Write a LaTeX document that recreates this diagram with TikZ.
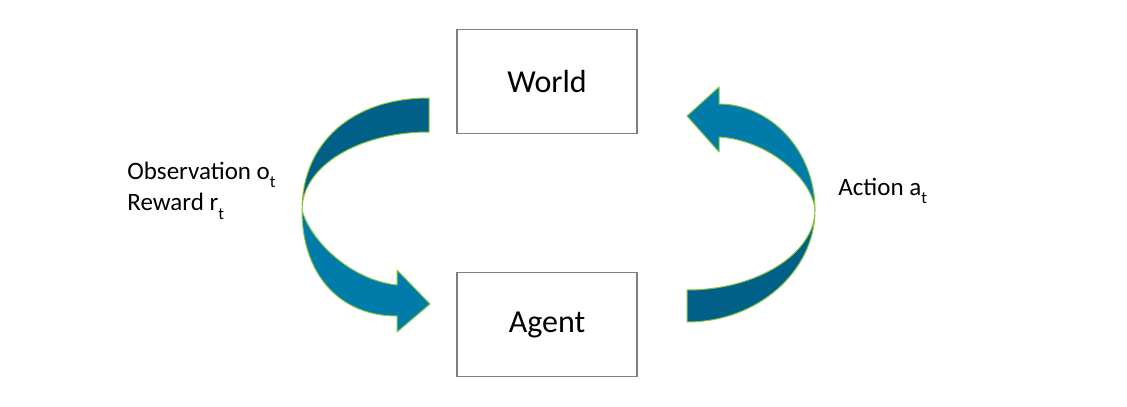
\documentclass[tikz,border=0pt]{standalone}
\usepackage{fontspec}
\setmainfont{Carlito}
\usepackage{tikz}
\usetikzlibrary{positioning}
\definecolor{ribbondark}{RGB}{0, 96, 136}
\definecolor{ribbonlight}{RGB}{0, 123, 170}
\definecolor{ribbonedge}{RGB}{140, 198, 63}
\definecolor{boxgray}{RGB}{127, 127, 127}
\newcommand{\lowsub}[1]{\raisebox{-4.5pt}{\fontsize{8.5}{8.5}\selectfont #1}}

\begin{document}
\begin{tikzpicture}[x=0.5pt, y=-0.5pt,
  box/.style={rectangle, draw=boxgray, line width=0.6pt, fill=white,
    minimum width=90pt, minimum height=52pt, font=\fontsize{16}{18}\selectfont},
  sidelabel/.style={inner sep=0pt, align=left, font=\fontsize{12.5}{15.5}\selectfont},
  ribbon/.style={draw=ribbonedge, line width=0.5pt, line join=round}
]
  \useasboundingbox (0,0) rectangle (1127,406);

  \node[box] (world) at (547,81.5) {World};
  \node[box, below=69pt of world] (agent) {Agent};

  \node[sidelabel, anchor=base west] (obs) at (127,210)
    {Observation o\lowsub{t}\\Reward r\lowsub{t}};
  \node[sidelabel, anchor=base west] (act) at (838,195) {Action a\lowsub{t}};

  % ribbon from world down to agent
  \fill[ribbon, fill=ribbondark] (429,98) .. controls (352,98) and (302,143) .. (302,210)
    .. controls (302,166) and (359,132) .. (429,132) -- cycle;
  \fill[ribbon, fill=ribbonlight] (302,210) .. controls (302,275) and (340,316) .. (397,316)
    -- (397,332) -- (430,304) -- (397,270) -- (397,285)
    .. controls (350,280) and (310,240) .. (302,210) -- cycle;

  % ribbon from agent up to world
  \fill[ribbon, fill=ribbondark] (687,322) .. controls (758,322) and (815,271) .. (815,210)
    .. controls (815,253) and (758,290) .. (687,290) -- cycle;
  \fill[ribbon, fill=ribbonlight] (815,210) .. controls (815,150) and (770,104) .. (719,104)
    -- (719,87) -- (687,116) -- (719,152) -- (719,137)
    .. controls (768,140) and (812,178) .. (815,210) -- cycle;
\end{tikzpicture}
\end{document}
